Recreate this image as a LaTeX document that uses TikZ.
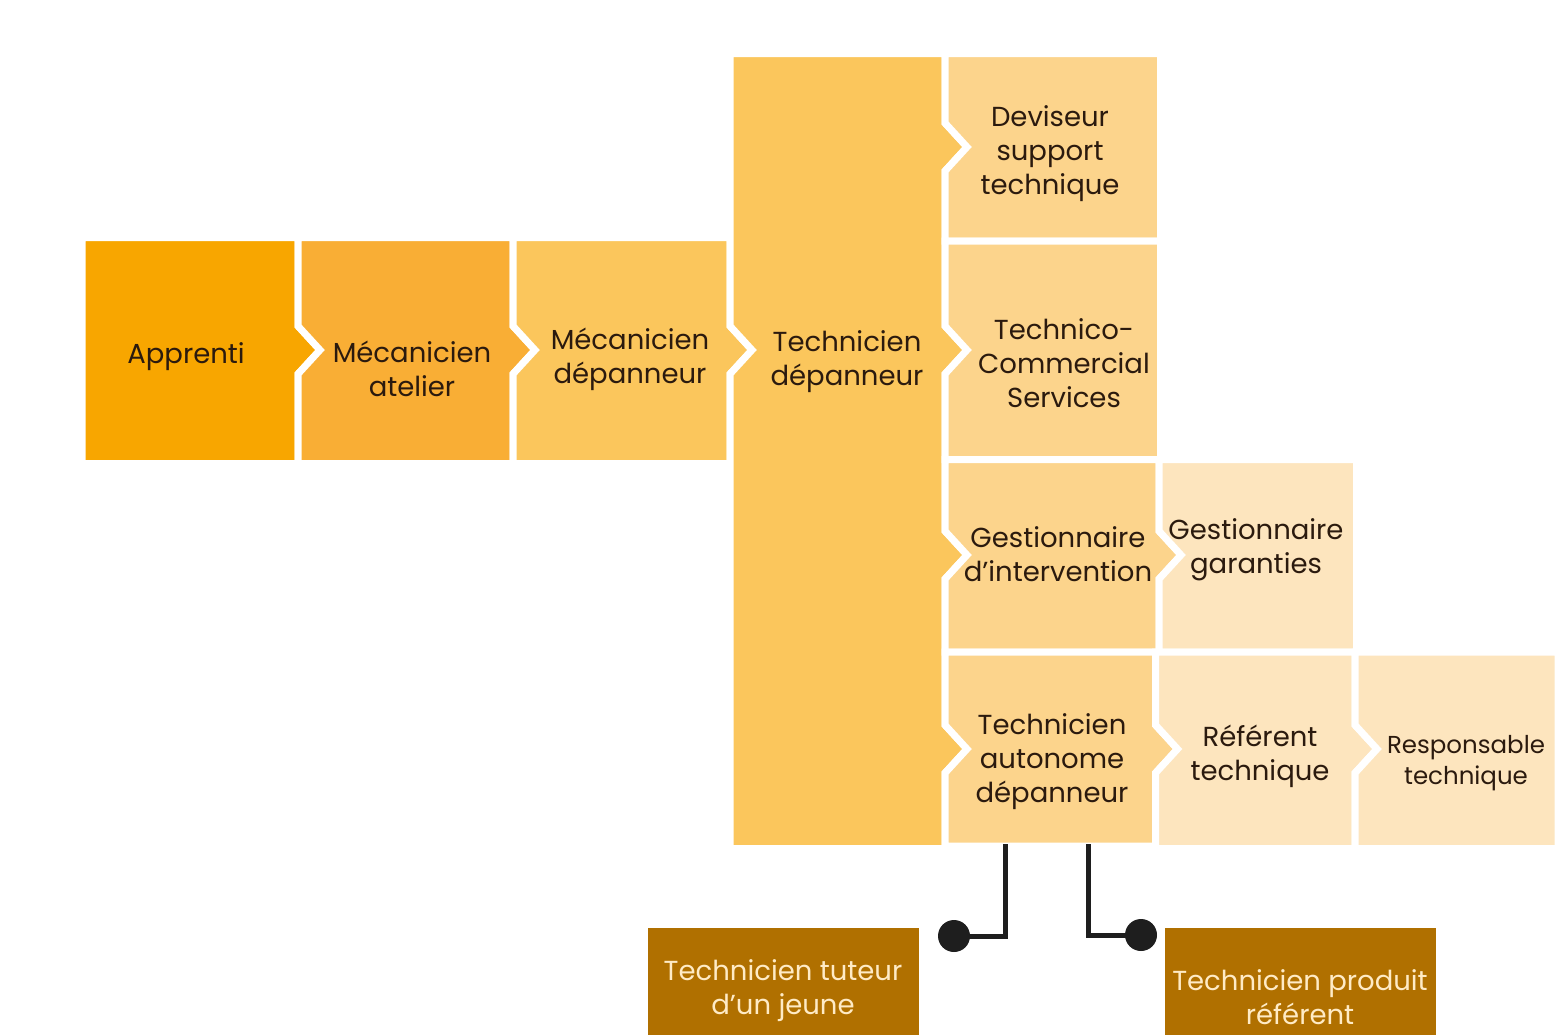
\documentclass[tikz,border=0pt]{standalone}
\usepackage{fontspec}
\setmainfont{Poppins}
\definecolor{cA}{HTML}{F8A600}
\definecolor{cB}{HTML}{F9AE35}
\definecolor{cC}{HTML}{FBC65C}
\definecolor{cD}{HTML}{FCD48C}
\definecolor{cE}{HTML}{FDE5BE}
\definecolor{cF}{HTML}{B07000}
\definecolor{txt}{HTML}{2B1A0E}
\definecolor{txtl}{HTML}{FFEBC6}
\definecolor{ln}{HTML}{1E1E1E}
\begin{document}
\begin{tikzpicture}[x=1pt,y=-1pt,
  box/.style={draw=white,line width=7pt,line join=miter},
  lbl/.style={align=center,text=txt,font=\fontsize{27.5}{34}\selectfont,inner sep=0pt},
  lbls/.style={align=center,text=txt,font=\fontsize{24.5}{31}\selectfont,inner sep=0pt},
  lbld/.style={align=center,text=txtl,font=\fontsize{27.5}{34}\selectfont,inner sep=0pt},
  conn/.style={draw=ln,line width=5pt,line cap=rect}]
\useasboundingbox (0,0) rectangle (1557,1034);
\fill[white] (0,0) rectangle (1557,1034);
% boxes
\path[box,fill=cA] (82,237.5) -- (298,237.5) -- (298,326) -- (320,350) -- (298,374) -- (298,463.5) -- (82,463.5) -- cycle;
\path[box,fill=cB] (298,237.5) -- (513,237.5) -- (513,326) -- (535,350) -- (513,374) -- (513,463.5) -- (298,463.5) -- (298,374) -- (320,350) -- (298,326) -- cycle;
\path[box,fill=cC] (513,237.5) -- (730,237.5) -- (730,326) -- (752,350) -- (730,374) -- (730,463.5) -- (513,463.5) -- (513,374) -- (535,350) -- (513,326) -- cycle;
\path[box,fill=cC] (730,53.5) -- (945,53.5) -- (945,123) -- (967,147) -- (945,171) -- (945,326) -- (967,350) -- (945,374) -- (945,531) -- (967,555) -- (945,579) -- (945,725) -- (967,749) -- (945,773) -- (945,848.5) -- (730,848.5) -- (730,374) -- (752,350) -- (730,326) -- cycle;
\path[box,fill=cD] (945,53.5) -- (1160.5,53.5) -- (1160.5,241) -- (945,241) -- (945,171) -- (967,147) -- (945,123) -- cycle;
\path[box,fill=cD] (945,241) -- (1160.5,241) -- (1160.5,459.5) -- (945,459.5) -- (945,374) -- (967,350) -- (945,326) -- cycle;
\path[box,fill=cD] (945,459.5) -- (1159,459.5) -- (1159,531) -- (1181,555) -- (1159,579) -- (1159,652) -- (945,652) -- (945,579) -- (967,555) -- (945,531) -- cycle;
\path[box,fill=cE] (1159,459.5) -- (1356.5,459.5) -- (1356.5,652) -- (1159,652) -- (1159,579) -- (1181,555) -- (1159,531) -- cycle;
\path[box,fill=cD] (945,652) -- (1155.5,652) -- (1155.5,725) -- (1177.5,749) -- (1155.5,773) -- (1155.5,846) -- (945,846) -- (945,773) -- (967,749) -- (945,725) -- cycle;
\path[box,fill=cE] (1155.5,652) -- (1355,652) -- (1355,725) -- (1377,749) -- (1355,773) -- (1355,848.5) -- (1155.5,848.5) -- (1155.5,773) -- (1177.5,749) -- (1155.5,725) -- cycle;
\path[box,fill=cE] (1355,652) -- (1558,652) -- (1558,848.5) -- (1355,848.5) -- (1355,773) -- (1377,749) -- (1355,725) -- cycle;
\fill[cF] (648,928) rectangle (919,1040);
\fill[cF] (1165,928) rectangle (1436,1040);
% labels
\node[lbl] (app) at (186,356.5) {Apprenti};
\node[lbl] (mat) at (412,368.5) {Mécanicien\\atelier};
\node[lbl] (mdp) at (630,359.5) {Mécanicien\\dépanneur};
\node[lbl] (tdp) at (847,361.5) {Technicien\\dépanneur};
\node[lbl] (dev) at (1050,153.5) {Deviseur\\support\\technique};
\node[lbl] (tcs) at (1064,363.5) {Technico-\\Commercial\\Services};
\node[lbl] (gin) at (1058,554.5) {Gestionnaire\\d’intervention};
\node[lbl] (gga) at (1256,549.5) {Gestionnaire\\garanties};
\node[lbl] (tad) at (1052,761.5) {Technicien\\autonome\\dépanneur};
\node[lbl] (ref) at (1260,756.5) {Référent\\technique};
\node[lbls] (rsp) at (1466,763) {Responsable\\technique};
\node[lbld] (tut) at (783,990.5) {Technicien tuteur\\d’un jeune};
\node[lbld] (pro) at (1300,997.5) {Technicien produit\\référent};
% connectors
\coordinate (c1) at (1005,846);
\coordinate (d1) at (954,936);
\coordinate (c2) at (1088,846);
\coordinate (d2) at (1141,935);
\draw[conn] (c1) |- (d1);
\draw[conn] (c2) |- (d2);
\fill[ln] (d1) circle (16);
\fill[ln] (d2) circle (16);
\end{tikzpicture}
\end{document}
